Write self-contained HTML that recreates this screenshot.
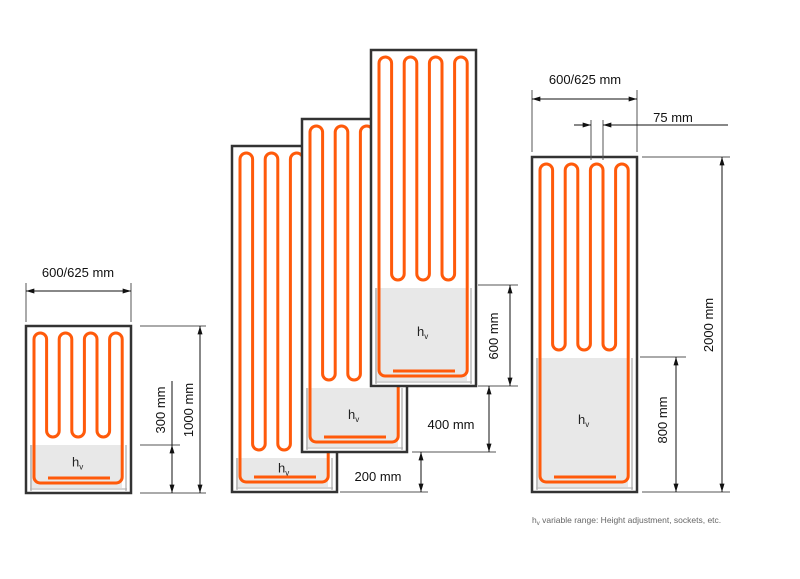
<!DOCTYPE html>
<html><head><meta charset="utf-8"><style>
html,body{margin:0;padding:0;background:#fff;}
svg{display:block;font-family:"Liberation Sans",sans-serif;}
</style></head><body>
<svg id="s" width="800" height="579" viewBox="0 0 800 579" xmlns="http://www.w3.org/2000/svg">
<defs>
<marker id="a" viewBox="0 0 10 6" refX="10" refY="3" markerWidth="9" markerHeight="5" orient="auto-start-reverse" markerUnits="userSpaceOnUse"><path d="M0,0 L10,3 L0,6 Z" fill="#111"/></marker>
</defs>
<g id="panels"></g>
<g id="dims" stroke="#222" stroke-width="1" fill="none"></g>
<g font-size="13" fill="#111">
<text x="78" y="277" text-anchor="middle">600/625 mm</text>
<text x="585" y="84" text-anchor="middle">600/625 mm</text>
<text x="673" y="122" text-anchor="middle">75 mm</text>
<text x="378" y="481" text-anchor="middle">200 mm</text>
<text x="451" y="429" text-anchor="middle">400 mm</text>
<text transform="translate(165,410) rotate(-90)" text-anchor="middle">300 mm</text>
<text transform="translate(193,410) rotate(-90)" text-anchor="middle">1000 mm</text>
<text transform="translate(498,336) rotate(-90)" text-anchor="middle">600 mm</text>
<text transform="translate(667,420) rotate(-90)" text-anchor="middle">800 mm</text>
<text transform="translate(713,325) rotate(-90)" text-anchor="middle">2000 mm</text>
</g>
<text x="532" y="523" font-size="8.5" fill="#666">h<tspan font-size="6" dy="2">v</tspan><tspan dy="-2"> variable range: Height adjustment, sockets, etc.</tspan></text>
</svg>
<script>
var NS="http://www.w3.org/2000/svg";
function el(parent,tag,attrs,text){var e=document.createElementNS(NS,tag);for(var k in attrs)e.setAttribute(k,attrs[k]);if(text!==undefined)e.textContent=text;parent.appendChild(e);return e;}
var P=document.getElementById("panels");
function panel(L,T,B,umid){
  var R=L+105;
  var g=el(P,"g",{});
  el(g,"rect",{x:L,y:T,width:105,height:B-T,fill:"#fff",stroke:"#333","stroke-width":2.5});
  var gy=umid+8;
  el(g,"rect",{x:L+4,y:gy,width:92,height:B-gy-5,fill:"#e8e8e8"});
  el(g,"line",{x1:L+5,y1:gy,x2:L+5,y2:B-2,stroke:"#999","stroke-width":1});
  el(g,"line",{x1:R-5,y1:gy,x2:R-5,y2:B-2,stroke:"#999","stroke-width":1});
  el(g,"line",{x1:L+4,y1:B-4,x2:R-4,y2:B-4,stroke:"#aaa","stroke-width":1});
  var x0=L+8,d=12.6,r=d/2,yt=T+7+r,ym=umid-r,yb=B-10,rc=6;
  var p="M"+x0+","+(yb-rc)+" V"+yt;
  for(var i=0;i<7;i++){
    var xa=x0+(i+1)*d;
    if(i%2==0) p+=" A"+r+","+r+" 0 0 1 "+xa+","+yt+" V"+ym;
    else p+=" A"+r+","+r+" 0 0 0 "+xa+","+ym+" V"+yt;
  }
  var x7=x0+7*d;
  p+=" V"+(yb-rc)+" A"+rc+","+rc+" 0 0 1 "+(x7-rc)+","+yb+" H"+(x0+rc)+" A"+rc+","+rc+" 0 0 1 "+x0+","+(yb-rc)+" Z";
  el(g,"path",{d:p,fill:"none",stroke:"#ff5a0a","stroke-width":3});
  el(g,"line",{x1:L+22,y1:yb-5,x2:L+84,y2:yb-5,stroke:"#ff5a0a","stroke-width":3});
  var cy=(gy+yb)/2+4; if(B-gy<50) cy=gy+(yb-5-gy)/2+5;
  var t=el(g,"text",{x:L+46,y:cy,"font-size":13,fill:"#222"});
  el(t,"tspan",{},"h");el(t,"tspan",{"font-size":8,dy:3},"v");
}
panel(26,326,493,437);
panel(232,146,492,450);
panel(302,119,452,380);
panel(371,50,386,280);
panel(532,157,492,350);
var D=document.getElementById("dims");
function ln(x1,y1,x2,y2,c){el(D,"line",{x1:x1,y1:y1,x2:x2,y2:y2,stroke:c||"#555"});}
function dim(x1,y1,x2,y2,ms,me){var a={x1:x1,y1:y1,x2:x2,y2:y2,stroke:"#111"};if(ms)a["marker-start"]="url(#a)";if(me)a["marker-end"]="url(#a)";el(D,"line",a);}
ln(26,283,26,322);ln(131,283,131,322);dim(26,291,131,291,1,1);
ln(140,326,206,326);ln(140,493,206,493);dim(200,326,200,493,1,1);
ln(140,445,180,445);ln(172,381,172,445,"#111");dim(172,445,172,493,1,1);
ln(340,492,428,492);ln(412,452,496,452);dim(421,452,421,492,1,1);
ln(478,386,518,386);dim(489,386,489,452,1,1);
ln(478,285,518,285);dim(510,285,510,386,1,1);
ln(532,90,532,152);ln(637,90,637,152);dim(532,99,637,99,1,1);
ln(591,120,591,160);ln(603,120,603,160);
dim(574,125,591,125,0,1);dim(728,125,603,125,0,1);
ln(642,157,730,157);ln(642,492,730,492);dim(722,157,722,492,1,1);
ln(640,357,686,357);dim(676,357,676,492,1,1);
</script>
</body></html>
